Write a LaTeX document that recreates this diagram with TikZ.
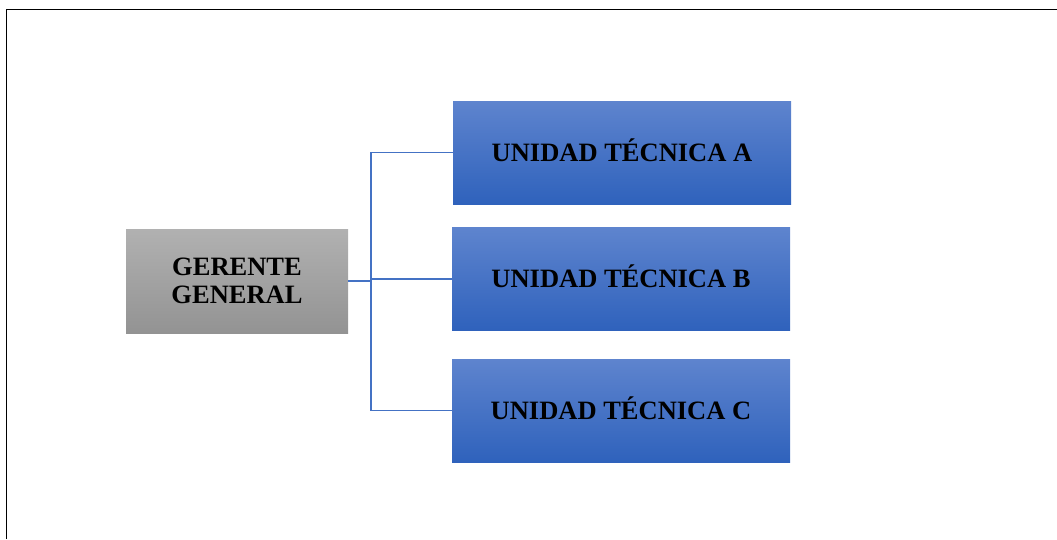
\documentclass[tikz,border=0pt]{standalone}
\usepackage{fontspec}
\setmainfont{Liberation Serif}
\begin{document}
\begin{tikzpicture}[x=1pt,y=-1pt,
  unitbox/.style={minimum width=338pt,minimum height=103pt,inner sep=0pt,
    text height=17.5pt,text depth=0pt,
    top color=unitTop,bottom color=unitBot,draw=none,
    font=\bfseries\fontsize{26.5}{30}\selectfont,text=black},
  chiefbox/.style={minimum width=222pt,minimum height=104pt,inner sep=0pt,
    top color=chiefTop,bottom color=chiefBot,draw=none,align=center,
    font=\bfseries\fontsize{26.5}{28}\selectfont,text=black},
  link/.style={draw=linkBlue,line width=1.1pt}]
\definecolor{unitTop}{HTML}{5E84CE}
\definecolor{unitBot}{HTML}{2F62BC}
\definecolor{chiefTop}{HTML}{B1B1B1}
\definecolor{chiefBot}{HTML}{939393}
\definecolor{linkBlue}{HTML}{4472C4}
\useasboundingbox (0,0) rectangle (1057,539);
% page frame
\draw[line width=1.2pt] (6.5,539) -- (6.5,9.5) -- (1057,9.5);
% boxes
\node[chiefbox] (gg) at (237,281) {GERENTE\\GENERAL};
\node[unitbox] (ua) at (622,152.5) {UNIDAD TÉCNICA A};
\node[unitbox] (ub) at (621,279) {UNIDAD TÉCNICA B};
\node[unitbox] (uc) at (621,410.5) {UNIDAD TÉCNICA C};
% connectors
\coordinate (j) at (371,281);
\draw[link] (gg.east) -- (j);
\draw[link] (j) |- (ua.west);
\draw[link] (j) |- (ub.west);
\draw[link] (j) |- (uc.west);
\end{tikzpicture}
\end{document}
